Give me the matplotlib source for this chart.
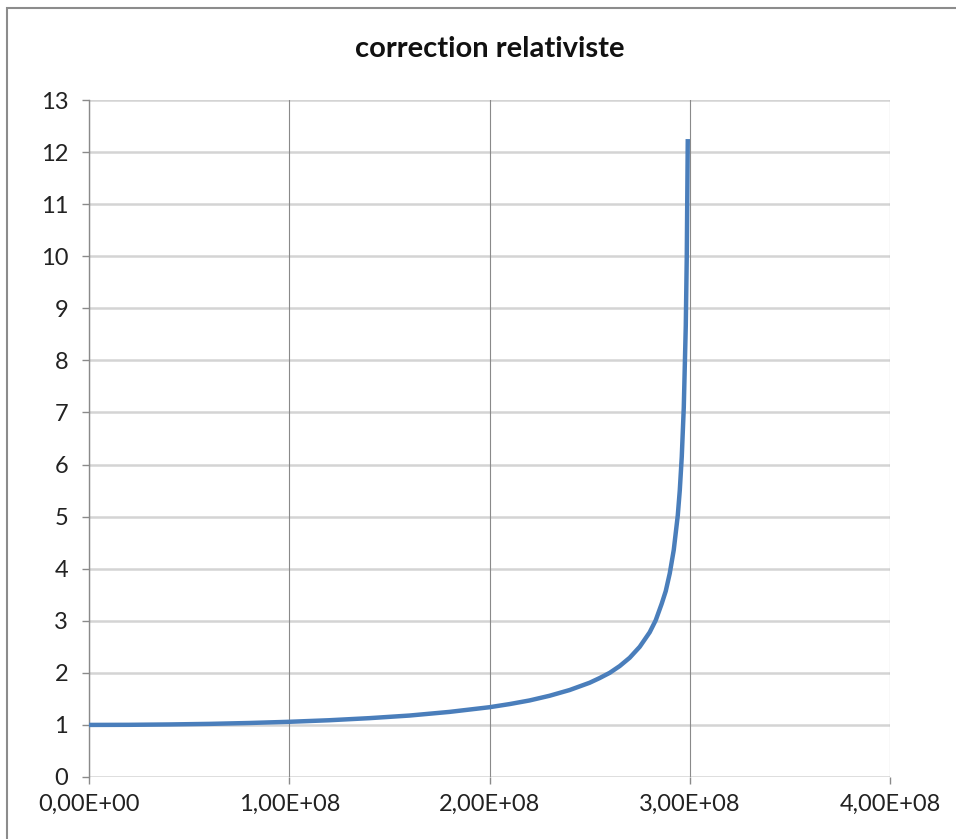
import matplotlib.pyplot as plt
from matplotlib.patches import Rectangle

# speed (m/s) and correction factor
vitesse = [0.0, 0.2e8, 0.4e8, 0.6e8, 0.8e8, 1.0e8, 1.2e8, 1.4e8, 1.6e8, 1.8e8,
           2.0e8, 2.1e8, 2.2e8, 2.3e8, 2.4e8, 2.5e8, 2.55e8, 2.6e8, 2.65e8,
           2.7e8, 2.75e8, 2.8e8, 2.83e8, 2.86e8, 2.88e8, 2.9e8, 2.92e8,
           2.94e8, 2.95e8, 2.96e8, 2.97e8, 2.98e8, 2.985e8, 2.99e8]
correction = [1.00, 1.002, 1.009, 1.02, 1.037, 1.06, 1.09, 1.13, 1.18, 1.25,
              1.34, 1.40, 1.47, 1.56, 1.67, 1.81, 1.90, 2.00, 2.13,
              2.29, 2.50, 2.78, 3.01, 3.33, 3.57, 3.91, 4.36,
              5.02, 5.50, 6.15, 7.09, 8.66, 10.0, 12.25]

yticks = list(range(0, 14))
xticks = [0, 1e8, 2e8, 3e8, 4e8]
xlabels = ['0,00E+00', '1,00E+08', '2,00E+08', '3,00E+08', '4,00E+08']

plt.rcParams['font.family'] = ['Lato', 'DejaVu Sans']

fig = plt.figure(figsize=(9.56, 8.39), dpi=100)
ax = fig.add_axes([0.0931, 0.0739, 0.8379, 0.8069])

# chart border (cut at right/bottom like the screenshot)
fig.patches.append(Rectangle((7 / 956, -0.1), 1.2, (839 - 8) / 839 + 0.1,
                             transform=fig.transFigure, fill=False,
                             edgecolor='#8c8c8c', linewidth=1.5))

ax.plot(vitesse, correction, color='#4a7ebb', linewidth=3.2,
        solid_capstyle='butt', zorder=3)

ax.set_xlim(0, 4e8)
ax.set_ylim(0, 13)
ax.set_xticks(xticks)
ax.set_xticklabels(xlabels)
ax.set_yticks(yticks)

for y in yticks:
    ax.axhline(y, color='#d4d4d4', linewidth=1.8, zorder=1)
for x in xticks:
    ax.axvline(x, color='#8a8a8a', linewidth=0.8, zorder=1)

for s in ['top', 'right', 'bottom']:
    ax.spines[s].set_visible(False)
ax.spines['left'].set_color('#8a8a8a')
ax.spines['left'].set_linewidth(1)

ax.tick_params(axis='both', colors='#8a8a8a', labelcolor='#222222',
               labelsize=17, length=5, width=1)
ax.tick_params(axis='x', pad=7)
ax.tick_params(axis='y', pad=10)

ax.set_title('correction relativiste', fontsize=21, fontweight='bold',
             color='#111111', pad=31)

fig.savefig('out.png', dpi=100)
